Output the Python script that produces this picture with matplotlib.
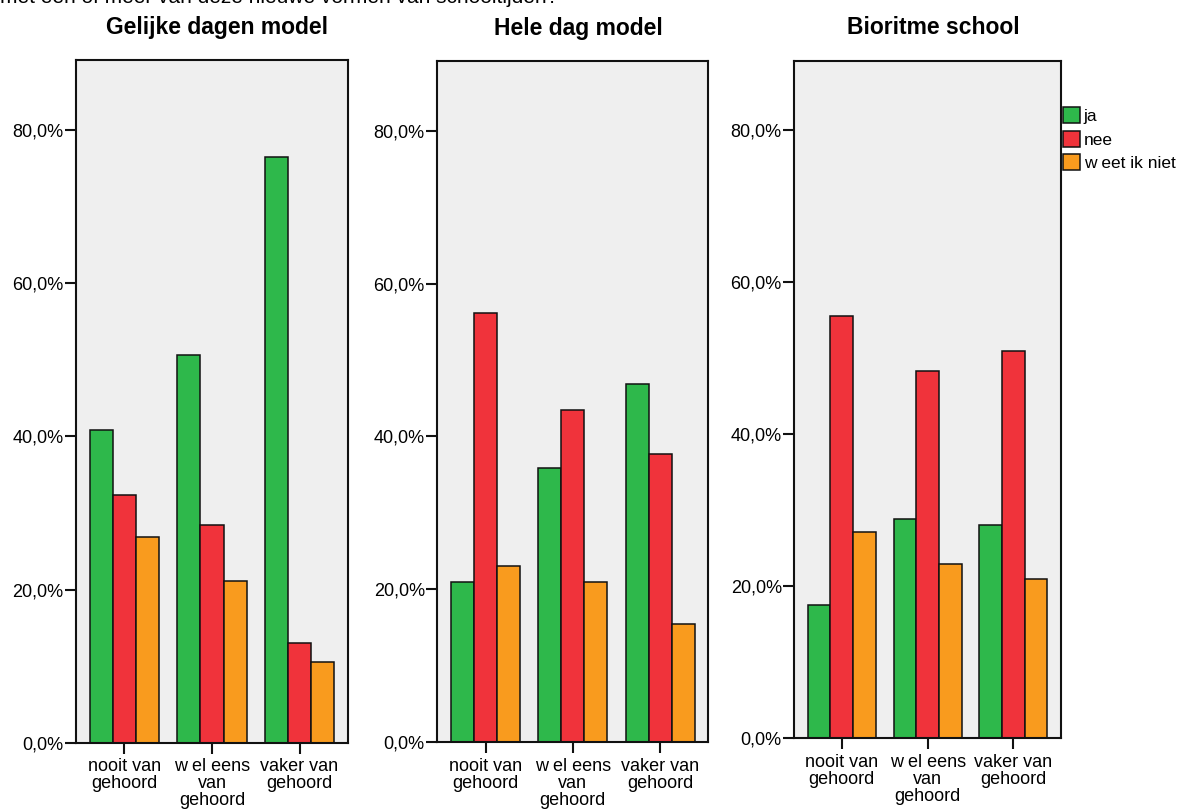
import numpy as np
import matplotlib
matplotlib.use('Agg')
import matplotlib.pyplot as plt
from matplotlib.patches import Patch

plt.rcParams['font.family'] = ['Liberation Sans', 'DejaVu Sans']

# data (percent)
panels = ['Gelijke dagen model', 'Hele dag model', 'Bioritme school']
groups = ['nooit van\ngehoord', 'w el eens\nvan\ngehoord', 'vaker van\ngehoord']
answers = ['ja', 'nee', 'w eet ik niet']
colors = ['#2EB84B', '#F0333B', '#F99B1E']

ja = [[40.8, 50.6, 76.5], [20.9, 35.9, 46.9], [17.5, 28.8, 28.1]]
nee = [[32.4, 28.4, 13.0], [56.2, 43.4, 37.7], [55.5, 48.3, 50.9]]
weet_niet = [[26.9, 21.1, 10.6], [23.1, 20.9, 15.5], [27.1, 22.9, 20.9]]

yticks = [0, 20, 40, 60, 80]
ytick_labels = ['0,0%', '20,0%', '40,0%', '60,0%', '80,0%']

# axes boxes in figure fractions [left, bottom, width, height]
boxes = [[0.0644, 0.0827, 0.2305, 0.8432],
         [0.3706, 0.0836, 0.2297, 0.8411],
         [0.6731, 0.0885, 0.2260, 0.8366]]


def main():
    fig = plt.figure(figsize=(11.8, 8.1), dpi=100)
    x = np.arange(len(groups))
    w = 0.264

    for i, name in enumerate(panels):
        ax = fig.add_axes(boxes[i])
        ax.set_facecolor('#EFEFEF')
        series = [ja[i], nee[i], weet_niet[i]]
        for k, vals in enumerate(series):
            ax.bar(x + (k - 1) * w, vals, width=w, color=colors[k],
                   edgecolor='#111111', linewidth=1.1)
        ax.set_xlim(-0.553, 2.553)
        ax.set_ylim(0, 89.1)
        ax.set_yticks(yticks)
        ax.set_yticklabels(ytick_labels)
        ax.set_xticks(x)
        ax.set_xticklabels(groups, linespacing=1.0)
        ax.tick_params(axis='both', length=8, width=1.5, color='#111111',
                       labelsize=13)
        ax.tick_params(axis='y', pad=1)
        ax.tick_params(axis='x', pad=3)
        for s in ax.spines.values():
            s.set_linewidth(1.5)
            s.set_color('#111111')
        ax.set_title(name, fontsize=16.5, fontweight='bold', pad=19,
                     x=0.52)

    handles = [Patch(facecolor=c, edgecolor='#111111', linewidth=1.1)
               for c in colors]
    fig.legend(handles, answers, loc='upper left',
               bbox_to_anchor=(1063 / 1180, 1 - 107 / 810),
               frameon=False, fontsize=12.5, handlelength=1.0,
               handleheight=1.05, handletextpad=0.2, labelspacing=0.38,
               borderpad=0.0, borderaxespad=0.0)

    # question line, mostly cut off at the top edge
    fig.text(0.0, 1 - 3 / 810, 'met een of meer van deze nieuwe vormen van schooltijden?',
             fontsize=15, ha='left', va='baseline')

    fig.savefig('out.png', dpi=100)


if __name__ == '__main__':
    main()
